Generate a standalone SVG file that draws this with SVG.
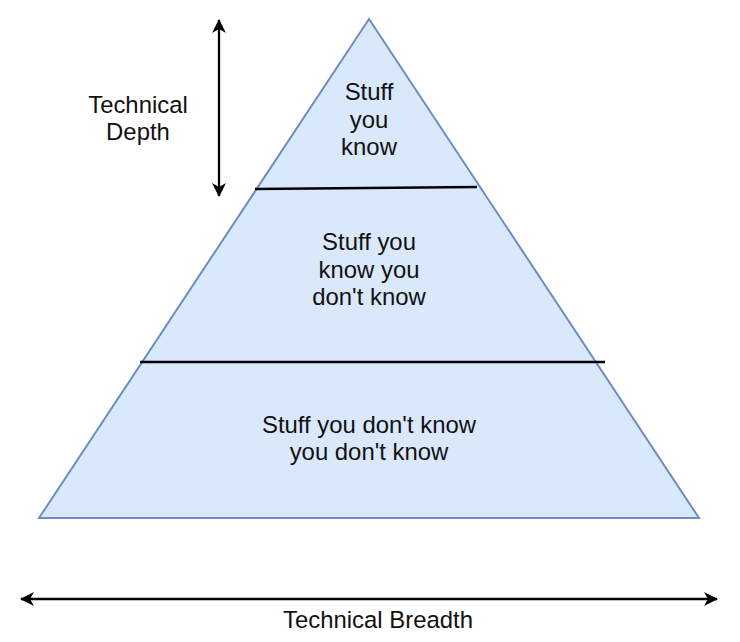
<svg xmlns="http://www.w3.org/2000/svg" width="740" height="642" viewBox="0 0 740 642">
<style>
text{font-family:"Liberation Sans",Arial,sans-serif;font-size:23.9px;fill:#111;text-anchor:middle}
.tri{fill:#dae8fc;stroke:#6c8ebf;stroke-width:2}
.div{stroke:#000;stroke-width:2.3;fill:none}
.arr{stroke:#000;stroke-width:2.3;fill:none;marker-start:url(#ah);marker-end:url(#ah)}
</style>
<defs>
<marker id="ah" viewBox="0 0 14 14" refX="13" refY="7" markerWidth="14" markerHeight="14" markerUnits="userSpaceOnUse" orient="auto-start-reverse">
<path d="M0,0 L14,7 L0,14 L4,7 z" fill="#000"/>
</marker>
</defs>
<g id="pyramid">
<polygon class="tri" points="369,19 699,518 39,518"/>
</g>
<g id="connectors">
<line class="div" x1="255" y1="189" x2="477" y2="187"/>
<line class="div" x1="140" y1="362" x2="605" y2="362"/>
<line class="arr" x1="219" y1="20" x2="219" y2="196"/>
<line class="arr" x1="21" y1="599" x2="717" y2="599"/>
</g>
<g id="top-label">
<text x="369" y="100">Stuff</text>
<text x="369" y="128">you</text>
<text x="369" y="155">know</text>
</g>
<g id="middle-label">
<text x="369" y="250">Stuff you</text>
<text x="369" y="278">know you</text>
<text x="369" y="305">don't know</text>
</g>
<g id="bottom-label">
<text x="369" y="433">Stuff you don't know</text>
<text x="369" y="460">you don't know</text>
</g>
<g id="depth-label">
<text x="138" y="113">Technical</text>
<text x="138" y="140">Depth</text>
</g>
<g id="breadth-label">
<text x="378" y="628">Technical Breadth</text>
</g>
</svg>
